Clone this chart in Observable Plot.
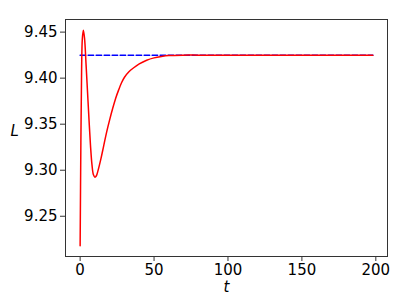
<!DOCTYPE html>
<html>
<head>
<meta charset="utf-8">
<script src="https://cdn.jsdelivr.net/npm/d3@7"></script>
<script src="https://cdn.jsdelivr.net/npm/@observablehq/plot@0.6"></script>
<style>
  html, body { margin: 0; padding: 0; background: #fff; }
  #chart { width: 407px; height: 305px; }
</style>
</head>
<body>
<div id="chart"></div>
<script>
// Time points and L values
const tValues = [0, 0.5, 1.0, 1.5, 2.2, 3.0, 4.0, 5.0, 6.0, 7.0, 8.0, 9.0, 10.0, 11.0, 12.0, 14.0, 16.0, 18.0, 20.0, 22.0, 24.0, 26.0, 28.0, 30.0, 33.0, 36.0, 40.0, 45.0, 50.0, 55.0, 60.0, 70.0, 80.0, 100.0, 120.0, 150.0, 180.0, 198.0];
const LValues = [9.218, 9.33, 9.41, 9.443, 9.452, 9.443, 9.415, 9.385, 9.355, 9.327, 9.306, 9.295, 9.2925, 9.294, 9.299, 9.312, 9.327, 9.342, 9.355, 9.367, 9.378, 9.387, 9.395, 9.401, 9.407, 9.411, 9.4155, 9.4195, 9.422, 9.4235, 9.4245, 9.425, 9.425, 9.425, 9.425, 9.425, 9.425, 9.425];
// Equilibrium (blue dashed reference)
const eqT = [0, 198];
const eqL = [9.425, 9.425];
// Tick labels
const xTicks = [0, 50, 100, 150, 200];
const yTicks = [9.25, 9.30, 9.35, 9.40, 9.45];
const xLabel = "t";
const yLabel = "L";

const curve = tValues.map((t, i) => ({t, L: LValues[i]}));
const eq = eqT.map((t, i) => ({t, L: eqL[i]}));

// matplotlib-like 5% margins
const tMin = d3.min(tValues), tMax = d3.max(tValues);
const lMin = d3.min(LValues), lMax = d3.max(LValues);
const tPad = (tMax - tMin) * 0.05, lPad = (lMax - lMin) * 0.05;

const chart = Plot.plot({
  width: 407,
  height: 305,
  marginLeft: 65,
  marginRight: 20,
  marginTop: 19,
  marginBottom: 49,
  style: {fontFamily: "'DejaVu Sans', sans-serif", fontSize: "15px", color: "black", background: "white"},
  x: {domain: [tMin - tPad, tMax + tPad]},
  y: {domain: [lMin - lPad, lMax + lPad]},
  marks: [
    Plot.line(eq, {x: "t", y: "L", stroke: "#0000ff", strokeWidth: 1.5, strokeDasharray: "5.5,2.5"}),
    Plot.line(curve, {x: "t", y: "L", stroke: "#ff0000", strokeWidth: 1.5, curve: "catmull-rom"}),
    Plot.frame({stroke: "#333", strokeWidth: 1}),
    Plot.axisX(xTicks, {tickSize: 5, tickPadding: 3, label: null, fontSize: 15, stroke: "#333"}),
    Plot.axisY(yTicks, {tickSize: 5, tickPadding: 3, label: null, fontSize: 15, tickFormat: d3.format(".2f"), stroke: "#333"}),
    Plot.text([xLabel], {frameAnchor: "bottom", dy: 35, text: d => d, fontSize: 15, fontStyle: "italic", fill: "black"}),
    Plot.text([yLabel], {frameAnchor: "left", dx: -55, dy: -7, text: d => d, fontSize: 15, fontStyle: "italic", fill: "black"})
  ]
});
document.getElementById("chart").appendChild(chart);
</script>
</body>
</html>
